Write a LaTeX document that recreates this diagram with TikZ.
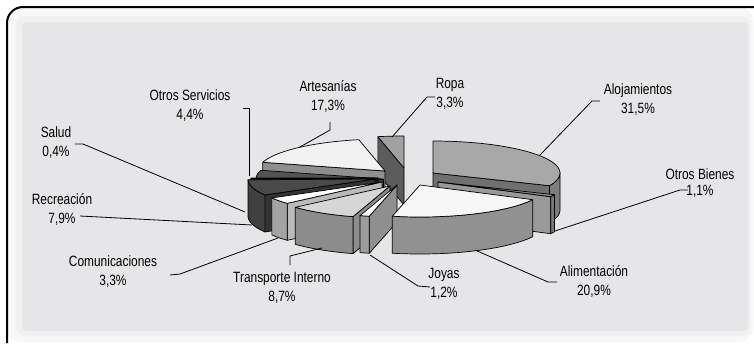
\documentclass[tikz,border=0pt]{standalone}
\usepackage{fontspec}
\setmainfont{Liberation Sans}[FakeStretch=0.8]
\usepackage{tikz}

\definecolor{panelgray}{RGB}{230,230,232}

\newcommand{\pieR}{127}
\newcommand{\pieK}{32}
\newcommand{\pieH}{37}

% top of a slice: apex x, apex y, from, to, fill
\newcommand{\slicetop}[5]{%
  \filldraw[slice,fill=#5] (#1,#2) -- plot[domain=#3:#4,samples=30] ({#1+\pieR*sin(\x)},{#2-\pieK*cos(\x)}) -- cycle;}
% outer wall of a slice
\newcommand{\slicewall}[5]{%
  \filldraw[slice,fill=#5] plot[domain=#3:#4,samples=30] ({#1+\pieR*sin(\x)},{#2-\pieK*cos(\x)})
    -- plot[domain=#4:#3,samples=30] ({#1+\pieR*sin(\x)},{#2+\pieH-\pieK*cos(\x)}) -- cycle;}
% cut face of a slice
\newcommand{\sliceface}[4]{%
  \filldraw[slice,fill=#4] (#1,#2) -- ({#1+\pieR*sin(#3)},{#2-\pieK*cos(#3)}) -- ++(0,\pieH) -- ({#1},{#2+\pieH}) -- cycle;}

\tikzset{
  slice/.style={draw=black,line width=0.7pt,line join=round},
  lbl/.style={align=center,inner sep=0pt,font=\fontsize{14.9}{19}\selectfont},
  leader/.style={draw=black,line width=0.8pt}
}

\begin{document}
\begin{tikzpicture}[x=1pt,y=-1pt]
	\useasboundingbox (0,0) rectangle (754,343);
	
	% frame
	\fill[white] (0,0) rectangle (754,343);
	\fill[black!3,rounded corners=14pt] (7,7) rectangle (753,342);
	\fill[black!6,rounded corners=10pt] (16,16) rectangle (751,336);
	\fill[panelgray,rounded corners=6pt] (22,22) rectangle (748,331);
	\draw[line width=2pt,rounded corners=16pt] (7,343) -- (7,7) -- (754,7);
	
	% Ropa
	\sliceface{404}{168}{348.12}{black!64}
	\slicetop{404}{168}{348.12}{360}{black!37}
	% Artesanias
	\sliceface{385}{171}{285.84}{black!44}
	\slicetop{385}{171}{285.84}{348.12}{black!5}
	% Alojamientos
	\sliceface{433}{173}{113.4}{black!56}
	\slicewall{433}{173}{90}{113.4}{black!51}
	\slicetop{433}{173}{0}{113.4}{black!34}
	% Otros Servicios
	\sliceface{383}{179}{270}{black!76}
	\slicetop{383}{179}{270}{285.84}{black!67}
	% Salud
	\sliceface{378}{178}{268.56}{black!90}
	\slicewall{378}{178}{268.56}{270}{black!88}
	\slicetop{378}{178}{268.56}{270}{black!87}
	% Recreacion
	\sliceface{375}{179}{240.12}{black!80}
	\slicewall{375}{179}{240.12}{268.56}{black!75}
	\slicetop{375}{179}{240.12}{268.56}{black!71}
	% Otros Bienes
	\sliceface{438}{182}{117.36}{black!40}
	\slicewall{438}{182}{113.4}{117.36}{black!52}
	\slicetop{438}{182}{113.4}{117.36}{black!46}
	% Comunicaciones
	\sliceface{382}{182}{228.24}{black!27}
	\slicewall{382}{182}{228.24}{240.12}{black!36}
	\slicetop{382}{182}{228.24}{240.12}{white}
	% Transporte Interno
	\sliceface{390}{186}{196.92}{black!45}
	\slicewall{390}{186}{196.92}{228.24}{black!45}
	\slicetop{390}{186}{196.92}{228.24}{black!16}
	% Joyas
	\sliceface{397}{185}{192.6}{black!44}
	\slicewall{397}{185}{192.6}{196.92}{black!39}
	\slicetop{397}{185}{192.6}{196.92}{white}
	% Alimentacion
	\slicewall{420}{185}{117.36}{192.6}{black!43}
	\slicetop{420}{185}{117.36}{192.6}{black!3}
	
	% labels
	\node[lbl] (lsalud) at (56,142.5)   {Salud\\0,4\%};
	\node[lbl] (lrecre) at (62,209.5)   {Recreación\\7,9\%};
	\node[lbl] (lcomun) at (113,271.5)  {Comunicaciones\\3,3\%};
	\node[lbl] (ltrans) at (282,287.5)  {Transporte Interno\\8,7\%};
	\node[lbl] (ljoyas) at (444,283.5)  {Joyas\\1,2\%};
	\node[lbl] (lalime) at (594,281)    {Alimentación\\20,9\%};
	\node[lbl,font=\fontsize{14.9}{16}\selectfont] (lobien) at (700,183) {Otros Bienes\\1,1\%};
	\node[lbl] (laloja) at (638,99.5)   {Alojamientos\\31,5\%};
	\node[lbl] (lropa)  at (450,94)     {Ropa\\3,3\%};
	\node[lbl] (lartes) at (328,96.5)   {Artesanías\\17,3\%};
	\node[lbl] (loserv) at (190,106)    {Otros Servicios\\4,4\%};
	
	% leader ends
	\coordinate (salud-a) at (75,144);   \coordinate (salud-b) at (245,212);
	\coordinate (recre-a) at (80,216);   \coordinate (recre-b) at (252,225);
	\coordinate (comun-a) at (170,275);  \coordinate (comun-b) at (278,238);
	\coordinate (trans-a) at (290,265);  \coordinate (trans-b) at (322,248);
	\coordinate (joyas-a) at (430,287);  \coordinate (joyas-b) at (370,255);
	\coordinate (alime-a) at (557,282);  \coordinate (alime-b) at (475,250);
	\coordinate (obien-a) at (688,190);  \coordinate (obien-b) at (555,231);
	\coordinate (aloja-a) at (600,101);  \coordinate (aloja-b) at (540,155);
	\coordinate (ropa-a)  at (435,97);   \coordinate (ropa-b)  at (392,137);
	\coordinate (artes-a) at (330,122);  \coordinate (artes-b) at (300,147);
	\coordinate (oserv-a) at (243,108);  \coordinate (oserv-b) at (249,176);
	
	\draw[leader] (salud-a) -- ++(8,0) -- (salud-b);
	\draw[leader] (recre-a) -- (recre-b);
	\draw[leader] (comun-a) -- ++(10,-1) -- (comun-b);
	\draw[leader] (trans-a) -- ++(0,-9) -- (trans-b);
	\draw[leader] (joyas-a) -- ++(-12,-1) -- (joyas-b);
	\draw[leader] (alime-a) -- ++(-9,0) -- (alime-b);
	\draw[leader] (obien-a) -- ++(-8,0) -- (obien-b);
	\draw[leader] (aloja-a) -- ++(-8,0) -- (aloja-b);
	\draw[leader] (ropa-a) -- ++(-8,0) -- (ropa-b);
	\draw[leader] (artes-a) -- ++(0,8) -- (artes-b);
	\draw[leader] (oserv-a) -- ++(6,0) -- (oserv-b);
	
\end{tikzpicture}
\end{document}
